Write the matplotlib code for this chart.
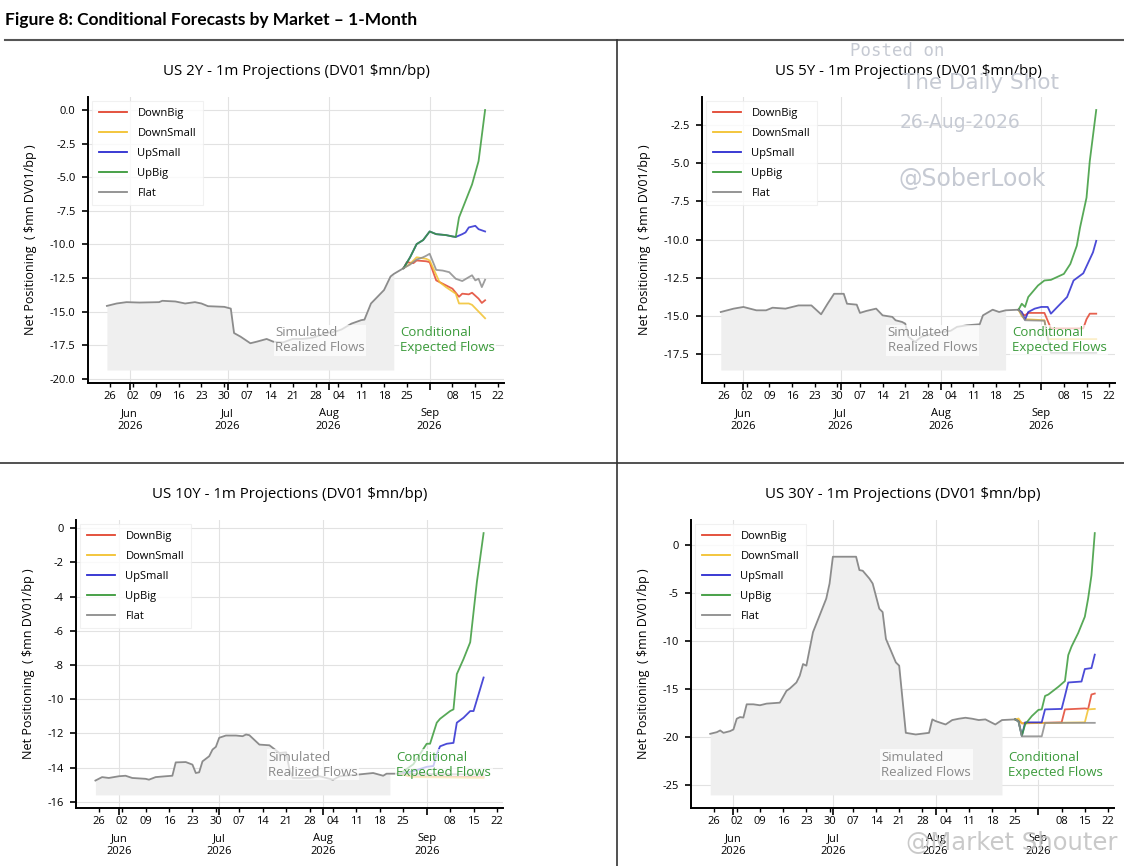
import numpy as np
import pandas as pd
import matplotlib
matplotlib.use("Agg")
import matplotlib.pyplot as plt
import matplotlib.dates as mdates
from matplotlib.lines import Line2D

YEAR = 2026
FILL_END = pd.Timestamp("2026-08-22")

SERIES = ["DownBig", "DownSmall", "UpSmall", "UpBig", "Flat"]
COLORS = {"DownBig": "#e2442f", "DownSmall": "#f2c12e", "UpSmall": "#2b2bd0",
          "UpBig": "#3a9a3a", "Flat": "#8c8c8c"}

#---------------------------------------- US 2Y ----------------------------------------#
us2y_hist = [("05-25", -14.58), ("05-28", -14.4), ("05-31", -14.3), ("06-04", -14.33),
             ("06-10", -14.3), ("06-11", -14.2), ("06-15", -14.25), ("06-18", -14.4),
             ("06-21", -14.3), ("06-23", -14.4), ("06-25", -14.6), ("06-30", -14.65),
             ("07-02", -14.78), ("07-03", -16.6), ("07-05", -16.87), ("07-08", -17.36),
             ("07-10", -17.24), ("07-13", -17.04), ("07-15", -17.24), ("07-18", -17.3),
             ("07-21", -17.04), ("07-24", -17.04), ("07-27", -16.95), ("07-31", -16.63),
             ("08-03", -16.5), ("08-05", -16.33), ("08-08", -15.9), ("08-11", -15.64),
             ("08-12", -15.6), ("08-14", -14.4), ("08-16", -13.9), ("08-18", -13.4),
             ("08-20", -12.39), ("08-21", -12.2), ("08-24", -11.77)]
us2y_downbig = [("08-24", -11.77), ("08-25", -11.33), ("08-27", -11.4), ("08-28", -11.2),
                ("08-31", -11.26), ("09-01", -11.33), ("09-03", -12.68), ("09-06", -13.05),
                ("09-08", -13.3), ("09-10", -13.9), ("09-11", -13.67), ("09-13", -13.72),
                ("09-14", -13.6), ("09-16", -14.04), ("09-17", -14.36), ("09-18", -14.16)]
us2y_downsmall = [("08-24", -11.77), ("08-26", -11.45), ("08-28", -10.96), ("08-31", -11.08),
                  ("09-01", -11.2), ("09-04", -12.8), ("09-06", -13.18), ("09-09", -13.67),
                  ("09-10", -14.4), ("09-13", -14.4), ("09-14", -14.5), ("09-16", -15.0),
                  ("09-18", -15.5)]
us2y_upsmall = [("08-24", -11.77), ("08-26", -10.96), ("08-28", -9.98), ("08-30", -9.68),
                ("09-01", -9.04), ("09-03", -9.24), ("09-06", -9.31), ("09-08", -9.41),
                ("09-09", -9.45), ("09-11", -9.24), ("09-12", -9.11), ("09-13", -8.74),
                ("09-15", -8.62), ("09-16", -8.87), ("09-18", -9.04)]
us2y_upbig = [("08-24", -11.77), ("08-26", -10.96), ("08-28", -9.98), ("08-30", -9.68),
              ("09-01", -9.04), ("09-03", -9.24), ("09-06", -9.31), ("09-08", -9.41),
              ("09-09", -9.45), ("09-10", -8.0), ("09-12", -6.77), ("09-14", -5.54),
              ("09-16", -3.8), ("09-18", 0.0)]
us2y_flat = [("08-24", -11.77), ("08-26", -11.5), ("08-28", -11.13), ("08-30", -10.96),
             ("08-31", -10.84), ("09-01", -10.7), ("09-03", -11.9), ("09-05", -11.95),
             ("09-07", -12.07), ("09-09", -12.56), ("09-11", -12.73), ("09-13", -12.44),
             ("09-14", -12.3), ("09-15", -12.68), ("09-16", -12.56), ("09-17", -13.18),
             ("09-18", -12.63)]
us2y_base = -19.35

#---------------------------------------- US 5Y ----------------------------------------#
us5y_hist = [("05-25", -14.73), ("05-27", -14.62), ("05-29", -14.51), ("06-01", -14.4),
             ("06-05", -14.62), ("06-08", -14.62), ("06-10", -14.45), ("06-14", -14.51),
             ("06-18", -14.3), ("06-22", -14.3), ("06-25", -14.88), ("06-27", -14.19),
             ("06-29", -13.54), ("07-02", -13.54), ("07-03", -14.19), ("07-06", -14.25),
             ("07-07", -14.79), ("07-09", -14.66), ("07-12", -14.51), ("07-14", -14.95),
             ("07-17", -15.05), ("07-18", -15.27), ("07-20", -15.38), ("07-21", -15.49),
             ("07-22", -16.35), ("07-24", -16.68), ("07-26", -16.35), ("07-30", -16.13),
             ("08-04", -15.96), ("08-06", -15.7), ("08-09", -15.6), ("08-13", -15.53),
             ("08-14", -14.95), ("08-17", -14.58), ("08-19", -14.73), ("08-21", -14.62),
             ("08-25", -14.58)]
us5y_downbig = [("08-25", -14.58), ("08-26", -14.84), ("08-27", -14.95), ("08-28", -14.79),
                ("09-02", -14.79), ("09-03", -15.3), ("09-04", -15.8), ("09-14", -15.8),
                ("09-15", -15.2), ("09-16", -14.84), ("09-18", -14.84)]
us5y_downsmall = [("08-25", -14.58), ("08-26", -15.0), ("08-27", -15.2), ("09-02", -15.27),
                  ("09-03", -16.5), ("09-18", -16.5)]
us5y_upsmall = [("08-25", -14.58), ("08-26", -14.73), ("08-27", -15.23), ("08-28", -14.73),
                ("08-30", -14.51), ("09-01", -14.4), ("09-03", -14.4), ("09-04", -14.84),
                ("09-06", -14.4), ("09-09", -13.75), ("09-11", -12.67), ("09-14", -12.2),
                ("09-17", -10.83), ("09-18", -10.08)]
us5y_upbig = [("08-25", -14.58), ("08-26", -14.19), ("08-27", -14.4), ("08-28", -13.75),
              ("08-31", -13.0), ("09-02", -12.67), ("09-04", -12.63), ("09-08", -12.24),
              ("09-10", -11.59), ("09-12", -10.4), ("09-13", -9.21), ("09-15", -7.26),
              ("09-16", -4.88), ("09-18", -1.53)]
us5y_flat = [("08-25", -14.58), ("08-26", -14.9), ("08-27", -15.27), ("09-02", -15.3),
             ("09-04", -17.4), ("09-18", -17.4)]
us5y_base = -18.52

#---------------------------------------- US 10Y ---------------------------------------#
us10y_hist = [("05-25", -14.75), ("05-27", -14.55), ("05-29", -14.6), ("06-01", -14.5),
              ("06-03", -14.47), ("06-05", -14.6), ("06-09", -14.65), ("06-10", -14.7),
              ("06-12", -14.55), ("06-15", -14.5), ("06-17", -14.47), ("06-18", -13.69),
              ("06-21", -13.67), ("06-23", -13.82), ("06-24", -14.31), ("06-25", -14.27),
              ("06-26", -13.63), ("06-28", -13.33), ("06-29", -12.94), ("06-30", -12.78),
              ("07-01", -12.25), ("07-03", -12.12), ("07-06", -12.12), ("07-08", -12.16),
              ("07-09", -12.06), ("07-10", -12.1), ("07-13", -12.65), ("07-16", -12.69),
              ("07-17", -12.84), ("07-19", -13.14), ("07-21", -13.1), ("07-22", -14.12),
              ("07-23", -14.6), ("07-28", -14.6), ("07-31", -14.5), ("08-04", -14.7),
              ("08-06", -14.5), ("08-11", -14.41), ("08-16", -14.31), ("08-19", -14.47),
              ("08-20", -14.35), ("08-21", -14.35), ("08-24", -14.35)]
us10y_downbig = [("08-24", -14.35), ("08-27", -14.5), ("09-18", -14.55)]
us10y_downsmall = [("08-24", -14.35), ("08-28", -14.55), ("09-18", -14.6)]
us10y_upsmall = [("08-24", -14.35), ("08-28", -14.2), ("09-01", -13.95), ("09-03", -13.9),
                 ("09-04", -13.2), ("09-05", -12.75), ("09-07", -12.6), ("09-09", -12.55),
                 ("09-10", -11.37), ("09-12", -11.08), ("09-14", -10.69), ("09-15", -10.69),
                 ("09-18", -8.73)]
us10y_upbig = [("08-24", -14.35), ("08-28", -13.8), ("08-31", -12.9), ("09-01", -12.6),
               ("09-02", -12.6), ("09-04", -11.37), ("09-05", -11.14), ("09-08", -10.69),
               ("09-09", -10.59), ("09-10", -8.53), ("09-12", -7.65), ("09-14", -6.67),
               ("09-16", -3.14), ("09-18", -0.29)]
us10y_flat = [("08-24", -14.35), ("09-18", -14.4)]
us10y_base = -15.59

#---------------------------------------- US 30Y ---------------------------------------#
us30y_hist = [("05-25", -19.69), ("05-27", -19.52), ("05-28", -19.34), ("05-29", -19.59),
              ("05-31", -19.41), ("06-01", -19.24), ("06-02", -18.12), ("06-03", -17.95),
              ("06-04", -18.0), ("06-05", -16.62), ("06-07", -16.62), ("06-09", -16.72),
              ("06-11", -16.55), ("06-15", -16.45), ("06-17", -15.22), ("06-18", -14.98),
              ("06-20", -14.35), ("06-21", -13.65), ("06-22", -12.43), ("06-23", -12.6),
              ("06-25", -9.11), ("06-27", -7.37), ("06-29", -5.62), ("06-30", -4.05),
              ("07-01", -1.26), ("07-08", -1.26), ("07-09", -2.65), ("07-10", -2.72),
              ("07-12", -3.53), ("07-13", -4.05), ("07-15", -6.67), ("07-16", -7.02),
              ("07-17", -9.81), ("07-20", -12.26), ("07-21", -12.6), ("07-23", -19.59),
              ("07-26", -19.76), ("07-30", -19.59), ("07-31", -18.19), ("08-01", -18.37),
              ("08-04", -18.72), ("08-06", -18.26), ("08-08", -18.12), ("08-10", -18.02),
              ("08-12", -18.12), ("08-14", -18.26), ("08-16", -18.19), ("08-19", -18.72),
              ("08-21", -18.26), ("08-25", -18.19)]
us30y_downbig = [("08-25", -18.19), ("08-26", -18.3), ("08-27", -18.6), ("09-08", -18.5),
                 ("09-09", -17.15), ("09-15", -17.05), ("09-16", -17.1), ("09-17", -15.6),
                 ("09-18", -15.5)]
us30y_downsmall = [("08-25", -18.19), ("08-26", -18.1), ("08-27", -18.6), ("09-15", -18.5),
                   ("09-16", -17.15), ("09-18", -17.1)]
us30y_upsmall = [("08-25", -18.19), ("08-26", -18.4), ("08-27", -19.9), ("08-28", -18.5),
                 ("09-02", -18.5), ("09-03", -17.15), ("09-08", -17.1), ("09-09", -15.75),
                 ("09-10", -14.35), ("09-14", -14.25), ("09-15", -12.95), ("09-17", -12.85),
                 ("09-18", -11.45)]
us30y_upbig = [("08-25", -18.19), ("08-26", -18.4), ("08-27", -19.9), ("08-28", -18.7),
               ("08-30", -17.85), ("09-01", -17.2), ("09-02", -17.15), ("09-03", -15.75),
               ("09-04", -15.6), ("09-07", -14.8), ("09-09", -14.2), ("09-10", -11.5),
               ("09-11", -10.6), ("09-13", -9.2), ("09-15", -7.5), ("09-16", -5.6),
               ("09-17", -3.2), ("09-18", 1.2)]
us30y_flat = [("08-25", -18.19), ("08-26", -18.4), ("08-27", -19.95), ("09-02", -19.95),
              ("09-03", -18.55), ("09-18", -18.55)]
us30y_base = -26.05

plt.rcParams["font.family"] = ["Open Sans", "DejaVu Sans"]
plt.rcParams["axes.unicode_minus"] = False


def to_xy(pairs):
    dates = pd.to_datetime([f"{YEAR}-{md}" for md, _ in pairs])
    vals = np.array([v for _, v in pairs])
    return dates, vals


# One chart panel: shaded realized history plus the five conditional paths
def draw_panel(ax, title, hist, proj, base):
    hd, hv = to_xy(hist)
    keep = hd <= FILL_END
    ax.fill_between(hd[keep], hv[keep], base, color="#efefef", lw=0, zorder=1)
    ax.plot(hd, hv, color=COLORS["Flat"], lw=1.3, zorder=3)
    for name, pairs in zip(SERIES, proj):
        d, v = to_xy(pairs)
        ax.plot(d, v, color=COLORS[name], lw=1.3, alpha=0.85, label=name, zorder=3)

    ax.set_title(title, fontsize=10.8, pad=16)
    ax.set_ylabel("Net Positioning  ( \\$mn DV01/bp )", fontsize=9, labelpad=9)

    ax.xaxis.set_major_locator(mdates.MonthLocator())
    ax.xaxis.set_major_formatter(mdates.DateFormatter("%b\n%Y"))
    ax.xaxis.set_minor_locator(mdates.WeekdayLocator(byweekday=mdates.TU))
    ax.xaxis.set_minor_formatter(mdates.DateFormatter("%d"))
    ax.tick_params(axis="x", which="major", length=5, width=1.2, pad=13, labelsize=8)
    ax.tick_params(axis="x", which="minor", length=3, width=1.0, pad=2.5, labelsize=8)
    ax.tick_params(axis="y", length=4, width=1.2, pad=5, labelsize=8)

    for s in ["top", "right"]:
        ax.spines[s].set_visible(False)
    for s in ["left", "bottom"]:
        ax.spines[s].set_linewidth(1.4)
    ax.grid(True, which="major", color="#e2e2e2", lw=0.8)
    ax.set_axisbelow(True)

    box = dict(facecolor="white", alpha=0.7, edgecolor="none", pad=1)
    ax.text(0.45, 0.15, "Simulated\nRealized Flows", transform=ax.transAxes, color="#8a8a8a",
            fontsize=9.5, va="center", ha="left", bbox=box, zorder=5)
    ax.text(0.75, 0.15, "Conditional\nExpected Flows", transform=ax.transAxes, color="#3a9a3a",
            fontsize=9.5, va="center", ha="left", bbox=box, zorder=5)

    leg = ax.legend(loc="upper left", fontsize=8, handlelength=2.5, handletextpad=0.95,
                    labelspacing=0.8, borderaxespad=0.4, borderpad=0.6, fancybox=False,
                    framealpha=0.8)
    leg.get_frame().set_edgecolor("#eeeeee")
    leg.get_frame().set_linewidth(0.8)
    for line in leg.get_lines():
        line.set_alpha(1)


W, H = 1124, 866
fig = plt.figure(figsize=(W / 100, H / 100), dpi=100)


def px_axes(x0, y0, x1, y1):
    return fig.add_axes([x0 / W, 1 - y1 / H, (x1 - x0) / W, (y1 - y0) / H])


ax2 = px_axes(88, 97, 504, 383)
ax5 = px_axes(702, 97, 1115, 383)
ax10 = px_axes(76, 520, 503, 808)
ax30 = px_axes(691, 520, 1114, 808)

draw_panel(ax2, "US 2Y - 1m Projections (DV01 \\$mn/bp)", us2y_hist,
           [us2y_downbig, us2y_downsmall, us2y_upsmall, us2y_upbig, us2y_flat], us2y_base)
draw_panel(ax5, "US 5Y - 1m Projections (DV01 \\$mn/bp)", us5y_hist,
           [us5y_downbig, us5y_downsmall, us5y_upsmall, us5y_upbig, us5y_flat], us5y_base)
draw_panel(ax10, "US 10Y - 1m Projections (DV01 \\$mn/bp)", us10y_hist,
           [us10y_downbig, us10y_downsmall, us10y_upsmall, us10y_upbig, us10y_flat], us10y_base)
draw_panel(ax30, "US 30Y - 1m Projections (DV01 \\$mn/bp)", us30y_hist,
           [us30y_downbig, us30y_downsmall, us30y_upsmall, us30y_upbig, us30y_flat], us30y_base)

# Page frame: heading, rule and dividers between the four panels
fig.text(5 / W, 1 - 20 / H, "Figure 8: Conditional Forecasts by Market – 1-Month",
         fontsize=12.5, fontweight="bold", family=["Lato", "DejaVu Sans"], va="center", ha="left")
fig.add_artist(Line2D([5 / W, 1], [1 - 40 / H, 1 - 40 / H], color="#555555", lw=1.5))
fig.add_artist(Line2D([617 / W, 617 / W], [0, 1 - 40 / H], color="#333333", lw=1.2))
fig.add_artist(Line2D([0, 1], [1 - 463 / H, 1 - 463 / H], color="#333333", lw=1.2))

# Watermarks
wm = "#c6cad3"
fig.text(897 / W, 1 - 51 / H, "Posted on", family="DejaVu Sans Mono", fontsize=12.5,
         color=wm, ha="center", va="center")
fig.text(980 / W, 1 - 83 / H, "The Daily Shot", family="DejaVu Sans", fontsize=15.5,
         color=wm, ha="center", va="center")
fig.text(960 / W, 1 - 122 / H, "26-Aug-2026", family="DejaVu Sans", fontsize=13.5,
         color=wm, ha="center", va="center")
fig.text(972 / W, 1 - 179 / H, "@SoberLook", family="DejaVu Sans", fontsize=17,
         color=wm, ha="center", va="center")
fig.text(1012 / W, 1 - 843 / H, "@Market Shouter", family="DejaVu Sans", fontsize=17.5,
         color="#c4c4c4", alpha=0.9, ha="center", va="center")

fig.savefig("out.png", dpi=100)
